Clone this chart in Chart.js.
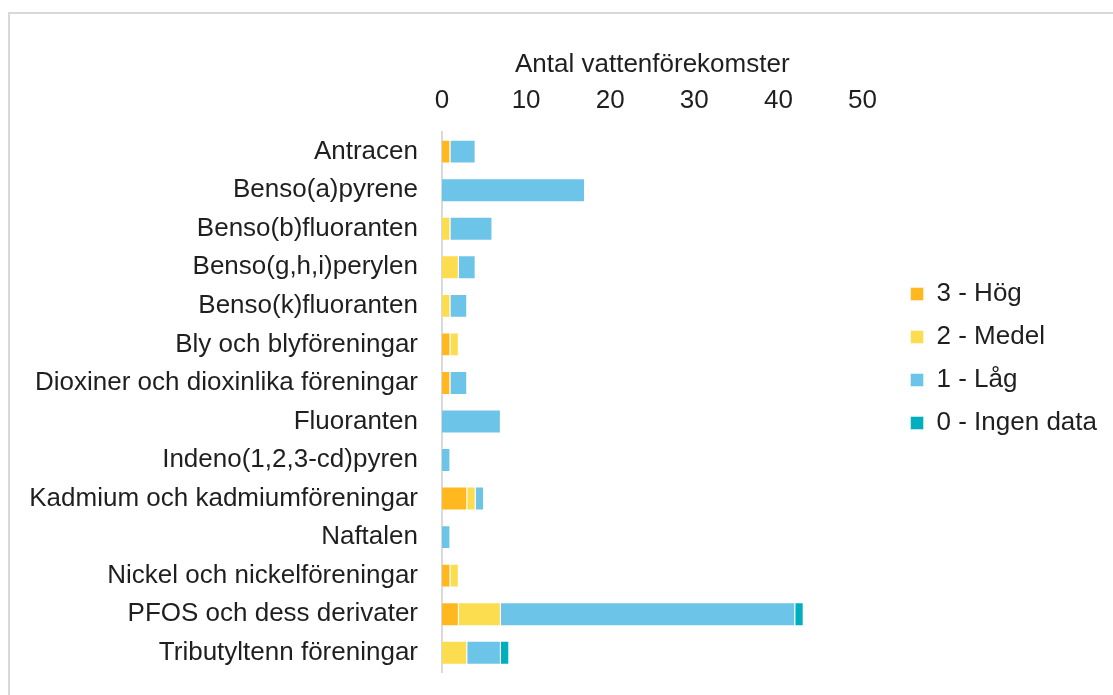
<!DOCTYPE html>
<html>
<head>
<meta charset="utf-8">
<script src="https://cdn.jsdelivr.net/npm/chart.js@4"></script>
<style>
  html, body { margin: 0; padding: 0; background: #fff; overflow: hidden; }
  .frame {
    position: absolute;
    left: 8px;
    top: 12px;
    width: 1103px;
    height: 681px;
    border-left: 2px solid #d9d9d9;
    border-top: 2px solid #d9d9d9;
  }
</style>
</head>
<body>
<div class="frame"><canvas id="chart"></canvas></div>
<script>
// DATA
const categories = [
  "Antracen",
  "Benso(a)pyrene",
  "Benso(b)fluoranten",
  "Benso(g,h,i)perylen",
  "Benso(k)fluoranten",
  "Bly och blyföreningar",
  "Dioxiner och dioxinlika föreningar",
  "Fluoranten",
  "Indeno(1,2,3-cd)pyren",
  "Kadmium och kadmiumföreningar",
  "Naftalen",
  "Nickel och nickelföreningar",
  "PFOS och dess derivater",
  "Tributyltenn föreningar",
];
const seriesNames = ["3 - Hög", "2 - Medel", "1 - Låg", "0 - Ingen data"];
const hog = [1, 0, 0, 0, 0, 1, 1, 0, 0, 3, 0, 1, 2, 0];
const medel = [0, 0, 1, 2, 1, 1, 0, 0, 0, 1, 0, 1, 5, 3];
const lag = [3, 17, 5, 2, 2, 0, 2, 7, 1, 1, 1, 0, 35, 4];
const ingenData = [0, 0, 0, 0, 0, 0, 0, 0, 0, 0, 0, 0, 1, 1];
const xTicks = [0, 10, 20, 30, 40, 50];
const axisTitle = "Antal vattenförekomster";

const colors = ["#ffb81f", "#fddd50", "#6cc4e8", "#00afbf"];
const textColor = "#1f1f1f";
const fontFamily = "'Liberation Sans', Arial, sans-serif";

Chart.defaults.font.family = fontFamily;
Chart.defaults.font.size = 26;
Chart.defaults.color = textColor;

// push the legend away from the plot, like the original layout
const legendExtraWidth = 37;
const legendShift = 31;
const legendOffset = {
  id: "legendOffset",
  beforeInit(chart) {
    const legend = chart.legend;
    const fit = legend.fit.bind(legend);
    legend.fit = () => {
      fit();
      legend.width += legendExtraWidth;
    };
  },
  afterLayout(chart) {
    chart.legend.left += legendShift;
  },
};

const seriesData = [hog, medel, lag, ingenData];

new Chart(document.getElementById("chart"), {
  type: "bar",
  data: {
    labels: categories,
    datasets: seriesNames.map((name, i) => ({
      label: name,
      data: seriesData[i],
      backgroundColor: colors[i],
      borderColor: "rgba(255, 255, 255, 0.45)",
      borderWidth: 1,
      barPercentage: 0.62,
      categoryPercentage: 1,
    })),
  },
  options: {
    indexAxis: "y",
    responsive: true,
    maintainAspectRatio: false,
    animation: false,
    layout: {
      padding: { top: 31, bottom: 23, left: 0, right: 0 },
    },
    plugins: {
      tooltip: { enabled: false },
      legend: {
        position: "right",
        labels: {
          boxWidth: 13,
          boxHeight: 13,
          padding: 17,
          color: textColor,
          font: { size: 26 },
        },
      },
    },
    scales: {
      x: {
        position: "top",
        stacked: true,
        min: 0,
        max: 50,
        afterBuildTicks: (scale) => {
          scale.ticks = xTicks.map((v) => ({ value: v }));
        },
        grid: { display: false, drawTicks: false },
        border: { display: false },
        ticks: { padding: 16, color: textColor, font: { size: 26 } },
        title: {
          display: true,
          text: axisTitle,
          color: textColor,
          font: { size: 26 },
          padding: { top: 4, bottom: -11 },
        },
      },
      y: {
        stacked: true,
        grid: { display: false, drawTicks: false },
        border: { display: true, color: "#d9d9d9", width: 2 },
        ticks: { padding: 24, color: textColor, font: { size: 26 } },
        afterFit: (scale) => {
          scale.width = 432;
          scale.paddingTop = 0;
          scale.paddingBottom = 0;
        },
      },
    },
  },
  plugins: [legendOffset],
});
</script>
</body>
</html>
